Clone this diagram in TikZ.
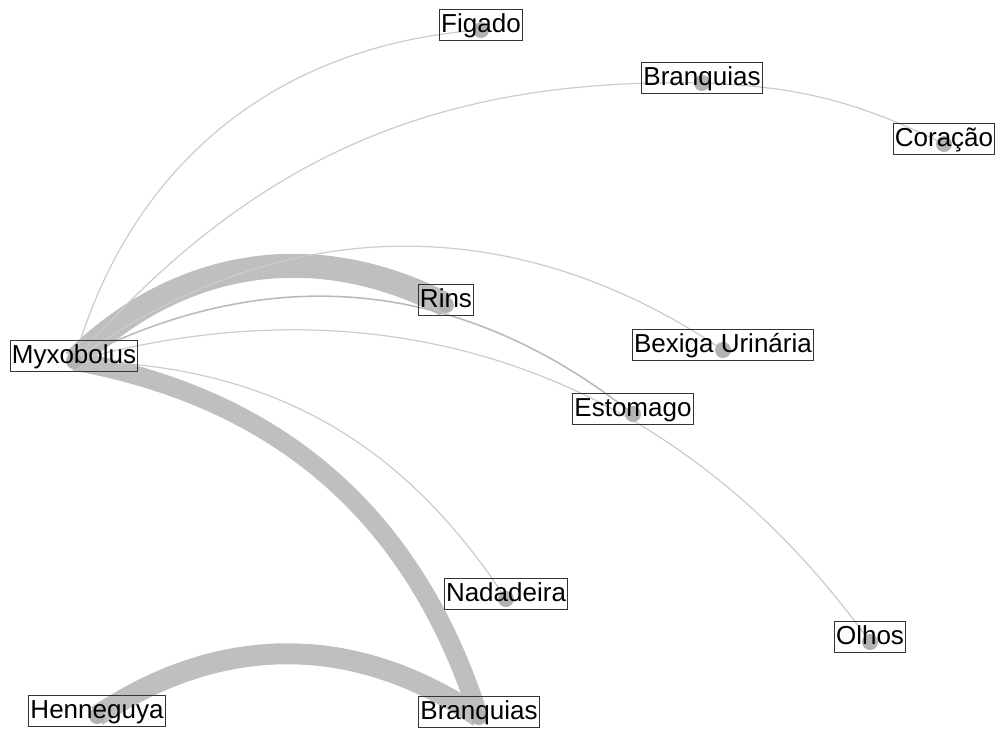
\documentclass[tikz,border=0pt]{standalone}
\usepackage{fontspec}
\setmainfont{Liberation Sans}
\usetikzlibrary{backgrounds}

\begin{document}
\begin{tikzpicture}[x=0.02cm, y=0.02cm,
        vertex/.style={circle, fill=black!30, minimum size=0.32cm, inner sep=0pt},
        tag/.style={draw=black!80, line width=0.6pt, inner xsep=1pt, inner ysep=1.8pt,
            text height=11pt, text depth=3pt, font=\fontsize{14.8}{16}\selectfont, yshift=0.1cm},
        link/.style={draw=black!20, line width=0.7pt},
        band/.style={draw=black!25}]
        \useasboundingbox (0,0) rectangle (998,-731);

        % Place vertices (parasites on the left, organs spread to the right)
        \node[vertex] (myx)  at (74,-361)  {};   % Myxobolus
        \node[vertex] (hen)  at (97,-716)  {};   % Henneguya
        \node[vertex] (fig)  at (481,-30)  {};
        \node[vertex] (brq)  at (702,-83)  {};   % upper Branquias
        \node[vertex] (cor)  at (944,-144) {};
        \node[vertex] (rins) at (446,-305) {};
        \node[vertex] (bex)  at (723,-350) {};
        \node[vertex] (est)  at (633,-414) {};
        \node[vertex] (nad)  at (506,-599) {};
        \node[vertex] (olh)  at (870,-642) {};
        \node[vertex] (brqb) at (479,-717) {};   % lower Branquias

        % Labels sit on top of the vertices
        \node[tag] (myxlbl)  at (myx)  {Myxobolus};
        \node[tag] (henlbl)  at (hen)  {Henneguya};
        \node[tag] (figlbl)  at (fig)  {Figado};
        \node[tag] (brqlbl)  at (brq)  {Branquias};
        \node[tag] (corlbl)  at (cor)  {Coração};
        \node[tag] (rinslbl) at (rins) {Rins};
        \node[tag] (bexlbl)  at (bex)  {Bexiga Urinária};
        \node[tag] (estlbl)  at (est)  {Estomago};
        \node[tag] (nadlbl)  at (nad)  {Nadadeira};
        \node[tag] (olhlbl)  at (olh)  {Olhos};
        \node[tag] (brqblbl) at (brqb) {Branquias};

        % Curved edges, drawn behind the vertices
        \begin{pgfonlayer}{background}
            \draw[band, line width=0.48cm] (myx.center) to[bend left=36] (rins.center);
            \draw[band, line width=0.38cm] (myx.center) to[bend left=31] (brqb.center);
            \draw[band, line width=0.42cm] (hen.center) to[bend left=34] (brqb.center);
            \draw[link] (myx.center) to[bend left=35] (fig.center);
            \draw[link] (myx.center) to[bend left=25] (brq.center);
            \draw[link] (brq.center) to[bend left=12] (cor.center);
            \draw[link] (myx.center) to[bend left=35] (bex.center);
            \draw[link, draw=black!27, line width=0.9pt] (myx.center) to[bend left=33] (est.center);
            \draw[link] (myx.center) to[bend left=35] (olh.center);
            \draw[link] (myx.center) to[bend left=28] (nad.center);
        \end{pgfonlayer}
    \end{tikzpicture}
\end{document}
